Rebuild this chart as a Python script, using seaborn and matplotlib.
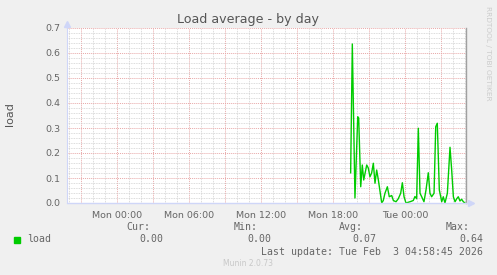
import matplotlib
matplotlib.use("Agg")
import matplotlib.pyplot as plt
from matplotlib.ticker import MultipleLocator, FuncFormatter
import seaborn as sns
import pandas as pd

# ---- data (hours since Mon 00:00, load average) ----
hours = [19.47, 19.61, 19.83, 20.06, 20.14, 20.31, 20.44, 20.56, 20.81, 20.94,
         21.08, 21.22, 21.36, 21.50, 21.64, 21.78, 22.06, 22.19, 22.33, 22.53,
         22.69, 22.89, 23.03, 23.25, 23.44, 23.64, 23.78, 23.92, 24.08, 24.42,
         24.69, 24.83, 24.97, 25.11, 25.25, 25.39, 25.58, 25.75, 25.94, 26.08,
         26.22, 26.42, 26.56, 26.69, 26.86, 27.06, 27.19, 27.33, 27.53, 27.75,
         27.89, 28.03, 28.17, 28.31, 28.44, 28.58, 28.72, 28.86, 29.00]
load = [0.12, 0.636, 0.02, 0.345, 0.34, 0.065, 0.152, 0.092, 0.152, 0.14,
        0.105, 0.12, 0.159, 0.079, 0.132, 0.092, 0.0, 0.01, 0.039, 0.065,
        0.025, 0.03, 0.01, 0.005, 0.017, 0.039, 0.081, 0.025, 0.0, 0.005,
        0.01, 0.026, 0.017, 0.299, 0.039, 0.025, 0.005, 0.052, 0.121, 0.039,
        0.025, 0.039, 0.305, 0.319, 0.052, 0.005, 0.025, 0.0, 0.039, 0.223,
        0.132, 0.025, 0.005, 0.017, 0.025, 0.008, 0.015, 0.005, 0.0]

x_tick_hours = [0, 6, 12, 18, 24]
x_tick_labels = ["Mon 00:00", "Mon 06:00", "Mon 12:00", "Mon 18:00", "Tue 00:00"]
x_range = [-4.1667, 29.083]
y_range = [0.0, 0.7]

title = "Load average - by day"
ylabel = "load"
series_name = "load"
stat_names = ["Cur:", "Min:", "Avg:", "Max:"]
stat_values = ["0.00", "0.00", "0.07", "0.64"]
last_update = "Last update: Tue Feb  3 04:58:45 2026"
version = "Munin 2.0.73"
watermark = "RRDTOOL / TOBI OETIKER"

# ---- style ----
sns.set_style("white")
plt.rcParams["font.family"] = ["DejaVu Sans"]

W, H = 497, 275
BG = "#F0F0F0"
FONT = "#666666"
AXISC = "#CFD6F8"
LINE = "#00CC00"

fig = plt.figure(figsize=(W / 100, H / 100), dpi=100, facecolor=BG)
L, R, T, B = 67, 466, 28, 203
ax = fig.add_axes([L / W, 1 - B / H, (R - L) / W, (B - T) / H])
ax.set_facecolor("white")

df = pd.DataFrame({"hour": hours, "load": load})
sns.lineplot(data=df, x="hour", y="load", ax=ax, color=LINE, linewidth=1.0,
             zorder=5)

ax.set_xlim(*x_range)
ax.set_ylim(*y_range)

# grid
ax.xaxis.set_major_locator(MultipleLocator(3))
ax.xaxis.set_minor_locator(MultipleLocator(1))
ax.yaxis.set_major_locator(MultipleLocator(0.1))
ax.yaxis.set_minor_locator(MultipleLocator(0.02))

lab = dict(zip(x_tick_hours, x_tick_labels))


def xfmt(v, pos):
    k = int(round(v))
    return lab.get(k, "") if abs(v - k) < 1e-6 else ""


ax.xaxis.set_major_formatter(FuncFormatter(xfmt))
ax.yaxis.set_major_formatter(FuncFormatter(lambda v, p: f"{v:.1f}"))

ax.grid(which="minor", color="#D0D0D0", linestyle=(0, (1, 1)), linewidth=0.6)
ax.grid(which="major", color="#E8A8A8", linestyle=(0, (1, 1)), linewidth=0.7)
ax.set_axisbelow(True)

ax.tick_params(axis="both", which="major", length=2.5, width=0.7,
               color="#E8A8A8", labelsize=6.8, labelcolor=FONT, pad=2.5)
ax.tick_params(axis="both", which="minor", length=1.5, width=0.6,
               color="#CCCCCC")
ax.tick_params(axis="x", which="major", pad=3.5)

ax.spines["top"].set_visible(False)
ax.spines["left"].set_color(AXISC)
ax.spines["bottom"].set_visible(False)
ax.spines["right"].set_color("#A0A0A0")
ax.spines["right"].set_linewidth(1.0)
ax.set_xlabel("")
ax.set_ylabel("")

# x axis line extended with arrow, y arrow
ax.plot([0, (473 - L) / (R - L)], [0, 0], transform=ax.transAxes,
        color=AXISC, lw=1.0, clip_on=False, zorder=6)
ax.plot([(471 - L) / (R - L)], [0], transform=ax.transAxes, marker=">",
        color=AXISC, markersize=4, clip_on=False, zorder=6)
ax.plot([0], [(B - 24) / (B - T)], transform=ax.transAxes, marker="^",
        color=AXISC, markersize=4, clip_on=False, zorder=6)
ax.plot([0, 0], [1, (B - 24) / (B - T)], transform=ax.transAxes,
        color=AXISC, lw=1.0, clip_on=False, zorder=6)


def ft(x, y, s, **kw):
    fig.text(x / W, 1 - y / H, s, **kw)


ft(248, 19, title, ha="center", va="center", fontsize=9.1, color="#555555")
ft(9.5, 114, ylabel, ha="center", va="center", rotation=90, fontsize=8.0,
   color="#555555")
ft(488, 53, watermark, ha="center", va="center", rotation=270, fontsize=5.3,
   color="#CCCCCC")

mono = dict(family="DejaVu Sans Mono", fontsize=7.1, color=FONT)
fig.patches.append(plt.Rectangle((14 / W, 1 - 243 / H), 6 / W, 6 / H,
                                 transform=fig.transFigure, color=LINE))
ft(27, 239, series_name, ha="left", va="center", **mono)
stat_right = [150, 258, 363, 470]
for xr, name, val in zip(stat_right, stat_names, stat_values):
    ft(xr, 227, name, ha="right", va="center", **mono)
    ft(xr + 13, 239, val, ha="right", va="center", **mono)
ft(483, 252, last_update, ha="right", va="center", **mono)
ft(248, 264, version, ha="center", va="center", fontsize=5.5, color="#C8C8C8")

fig.savefig("out.png", dpi=100, facecolor=BG)
